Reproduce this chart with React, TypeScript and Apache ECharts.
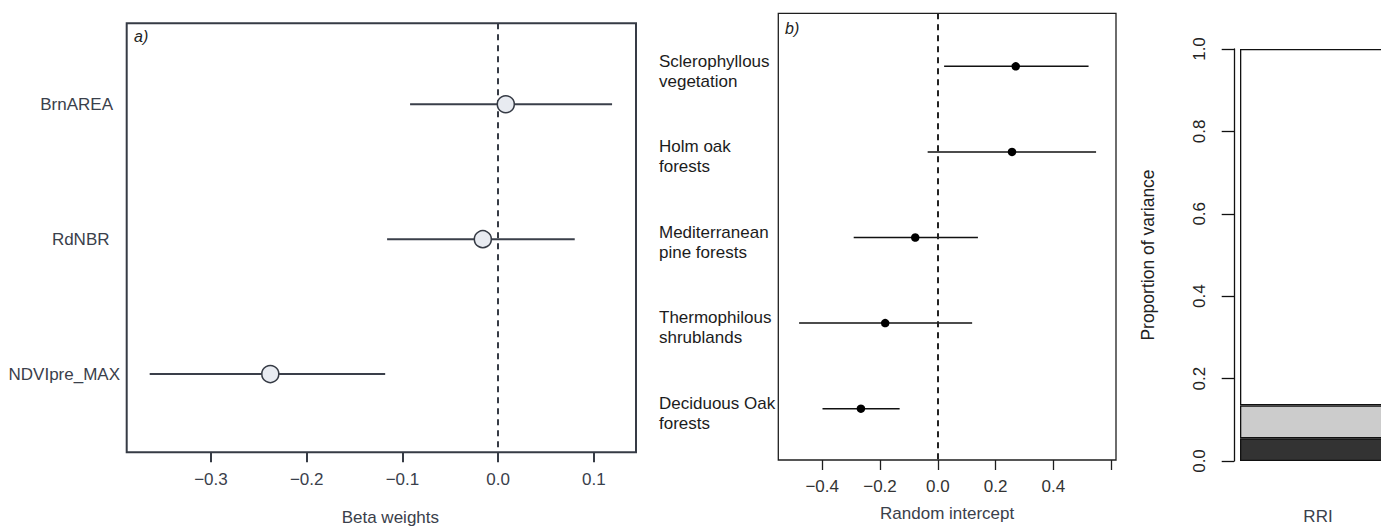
import React, { useEffect, useRef } from "react";
import * as echarts from "echarts";

const FONT = "'Liberation Sans', Arial, Helvetica, sans-serif";

// ---- Panel a: fixed effects (beta weights)
const aNames = ["BrnAREA", "RdNBR", "NDVIpre_MAX"];
const aEst = [0.008, -0.016, -0.238];
const aLow = [-0.092, -0.116, -0.364];
const aHigh = [0.119, 0.08, -0.118];
const aTicks = [-0.3, -0.2, -0.1, 0.0, 0.1];
const aLabelPad = [7, 10.5, 0];

// ---- Panel b: random intercepts
const bNames = [
  "Sclerophyllous\nvegetation",
  "Holm oak\nforests",
  "Mediterranean\npine forests",
  "Thermophilous\nshrublands",
  "Deciduous Oak\nforests",
];
const bEst = [0.27, 0.257, -0.078, -0.182, -0.266];
const bLow = [0.022, -0.035, -0.291, -0.48, -0.399];
const bHigh = [0.522, 0.548, 0.139, 0.119, -0.132];
const bTicks = [-0.4, -0.2, 0.0, 0.2, 0.4, 0.6];
const bTickLabels = [-0.4, -0.2, 0.0, 0.2, 0.4];

// ---- Panel c: proportion of variance
const cCategory = ["RRI"];
const cDark = [0.055];
const cLight = [0.08];
const cRest = [0.865];

const A_TEXT = "#3a404b";
const A_FRAME = "#363b45";
const B_TEXT = "#1c1c1c";
const B_FRAME = "#1f1f1f";
const FS = 17;

function fmt(v: number): string {
  const s = (Math.abs(v) < 1e-9 ? 0 : v).toFixed(1);
  return s.replace("-", "\u2212");
}

function whiskers(lo: number[], hi: number[], color: string, width: number, xi: number, yi: number) {
  return {
    type: "custom",
    xAxisIndex: xi,
    yAxisIndex: yi,
    z: 2,
    silent: true,
    data: lo.map((l, i) => [l, hi[i], i + 1]),
    encode: { x: [0, 1], y: 2 },
    renderItem: (_params: any, api: any) => {
      const p1 = api.coord([api.value(0), api.value(2)]);
      const p2 = api.coord([api.value(1), api.value(2)]);
      return {
        type: "line",
        shape: { x1: p1[0], y1: p1[1], x2: p2[0], y2: p2[1] },
        style: { stroke: color, lineWidth: width },
      };
    },
  };
}

export default function App() {
  const ref = useRef<HTMLDivElement>(null);

  useEffect(() => {
    document.body.style.margin = "0";
    const chart = echarts.init(ref.current!, null, { renderer: "svg" });

    // two-line labels of panel b sit slightly below their rows
    const bLabelAt = bNames.map((_, i) => i + 1.055);

    const option: any = {
      animation: false,
      textStyle: { fontFamily: FONT },
      grid: [
        { left: 126.7, top: 23.3, width: 509.3, height: 429, show: true, borderColor: A_FRAME, borderWidth: 2, backgroundColor: "transparent", outerBoundsMode: "none", containLabel: false },
        { left: 778.3, top: 13.3, width: 337.7, height: 446.7, show: true, borderColor: B_FRAME, borderWidth: 1.3, backgroundColor: "transparent", outerBoundsMode: "none", containLabel: false },
        { left: 1240, top: 49, width: 156, height: 412, show: false, outerBoundsMode: "none", containLabel: false },
      ],
      xAxis: [
        {
          gridIndex: 0,
          type: "value",
          min: -0.388,
          max: 0.144,
          splitLine: { show: false },
          axisLine: { show: false, onZero: false },
          axisTick: { show: true, customValues: aTicks, length: 10, lineStyle: { color: A_FRAME, width: 2 } },
          axisLabel: { customValues: aTicks, formatter: fmt, margin: 19, fontSize: FS, color: A_TEXT, fontFamily: FONT },
          name: "Beta weights",
          nameLocation: "middle",
          nameGap: 57,
          nameTextStyle: { fontSize: FS, color: A_TEXT, fontFamily: FONT, padding: [0, 0, 0, 18] },
        },
        {
          gridIndex: 1,
          type: "value",
          min: -0.552,
          max: 0.617,
          splitLine: { show: false },
          axisLine: { show: false, onZero: false },
          axisTick: { show: true, customValues: bTicks, length: 10, lineStyle: { color: B_FRAME, width: 1.3 } },
          axisLabel: { customValues: bTickLabels, formatter: fmt, margin: 18, fontSize: FS, color: "#333", fontFamily: FONT },
          name: "Random intercept",
          nameLocation: "middle",
          nameGap: 45,
          nameTextStyle: { fontSize: FS, color: "#3a404b", fontFamily: FONT },
        },
        {
          gridIndex: 2,
          type: "category",
          data: cCategory,
          axisLine: { show: false },
          axisTick: { show: false },
          axisLabel: { margin: 47, fontSize: FS, color: "#3a404b", fontFamily: FONT },
        },
      ],
      yAxis: [
        {
          gridIndex: 0,
          type: "value",
          inverse: true,
          min: 0.4,
          max: 3.58,
          splitLine: { show: false },
          axisLine: { show: false, onZero: false },
          axisTick: { show: false },
          axisLabel: {
            customValues: [1, 2, 3],
            margin: 6.7,
            formatter: (v: number) => `{p${Math.round(v) - 1}|${aNames[Math.round(v) - 1]}}`,
            rich: {
              p0: { fontSize: FS, color: A_TEXT, fontFamily: FONT, padding: [0, aLabelPad[0], 0, 0] },
              p1: { fontSize: FS, color: A_TEXT, fontFamily: FONT, padding: [0, aLabelPad[1], 0, 0] },
              p2: { fontSize: FS, color: A_TEXT, fontFamily: FONT, padding: [0, aLabelPad[2], 0, 0] },
            },
          },
        },
        {
          gridIndex: 1,
          type: "value",
          inverse: true,
          min: 0.38,
          max: 5.6,
          splitLine: { show: false },
          axisLine: { show: false, onZero: false },
          axisTick: { show: false },
          axisLabel: {
            customValues: bLabelAt,
            align: "left",
            margin: 119.3,
            lineHeight: 20,
            fontSize: FS,
            color: B_TEXT,
            fontFamily: FONT,
            formatter: (v: number) => bNames[Math.round(v) - 1],
          },
        },
        {
          gridIndex: 2,
          type: "value",
          min: 0,
          max: 1,
          interval: 0.2,
          offset: 6,
          splitLine: { show: false },
          axisLine: { show: true, onZero: false, lineStyle: { color: "#111", width: 1.3 } },
          axisTick: { show: true, length: 12.3, lineStyle: { color: "#111", width: 1.3 } },
          axisLabel: { rotate: 90, margin: 26, formatter: fmt, fontSize: FS, color: "#222", fontFamily: FONT },
          name: "Proportion of variance",
          nameLocation: "middle",
          nameGap: 77,
          nameRotate: 90,
          nameTextStyle: { fontSize: 17.5, color: "#222", fontFamily: FONT },
        },
      ],
      graphic: [
        { type: "text", left: 134, top: 28, style: { text: "a)", font: `italic 16px ${FONT}`, fill: "#222" } },
        { type: "text", left: 785, top: 20, style: { text: "b)", font: `italic 16px ${FONT}`, fill: "#222" } },
        { type: "text", left: 1245, top: 56, style: { text: "c)", font: `italic 16px ${FONT}`, fill: "#222" } },
      ],
      series: [
        whiskers(aLow, aHigh, "#3a3f4a", 2, 0, 0),
        {
          type: "scatter",
          xAxisIndex: 0,
          yAxisIndex: 0,
          z: 3,
          silent: true,
          symbol: "circle",
          symbolSize: 17,
          itemStyle: { color: "#e8ebf1", borderColor: "#363b45", borderWidth: 1.5, opacity: 1 },
          data: aEst.map((v, i) => [v, i + 1]),
          markLine: {
            silent: true,
            symbol: ["none", "none"],
            label: { show: false },
            lineStyle: { type: [6, 5], color: "#363b45", width: 2 },
            data: [{ xAxis: 0 }],
            z: 1,
          },
        },
        whiskers(bLow, bHigh, "#111", 1.5, 1, 1),
        {
          type: "scatter",
          xAxisIndex: 1,
          yAxisIndex: 1,
          z: 3,
          silent: true,
          symbol: "circle",
          symbolSize: 8.5,
          itemStyle: { color: "#000", opacity: 1 },
          data: bEst.map((v, i) => [v, i + 1]),
          markLine: {
            silent: true,
            symbol: ["none", "none"],
            label: { show: false },
            lineStyle: { type: [6, 5], color: "#222", width: 2 },
            data: [{ xAxis: 0 }],
          },
        },
        {
          type: "bar",
          xAxisIndex: 2,
          yAxisIndex: 2,
          stack: "v",
          barWidth: "100%",
          silent: true,
          itemStyle: { color: "#333333", borderColor: "#111", borderWidth: 1.3 },
          data: cDark,
        },
        {
          type: "bar",
          xAxisIndex: 2,
          yAxisIndex: 2,
          stack: "v",
          barWidth: "100%",
          silent: true,
          itemStyle: { color: "#cccccc", borderColor: "#111", borderWidth: 1.3 },
          data: cLight,
        },
        {
          type: "bar",
          xAxisIndex: 2,
          yAxisIndex: 2,
          stack: "v",
          barWidth: "100%",
          silent: true,
          itemStyle: { color: "#ffffff", borderColor: "#111", borderWidth: 1.3 },
          data: cRest,
        },
      ],
    };

    chart.setOption(option);
    return () => chart.dispose();
  }, []);

  return <div ref={ref} style={{ width: 1381, height: 526 }} />;
}
